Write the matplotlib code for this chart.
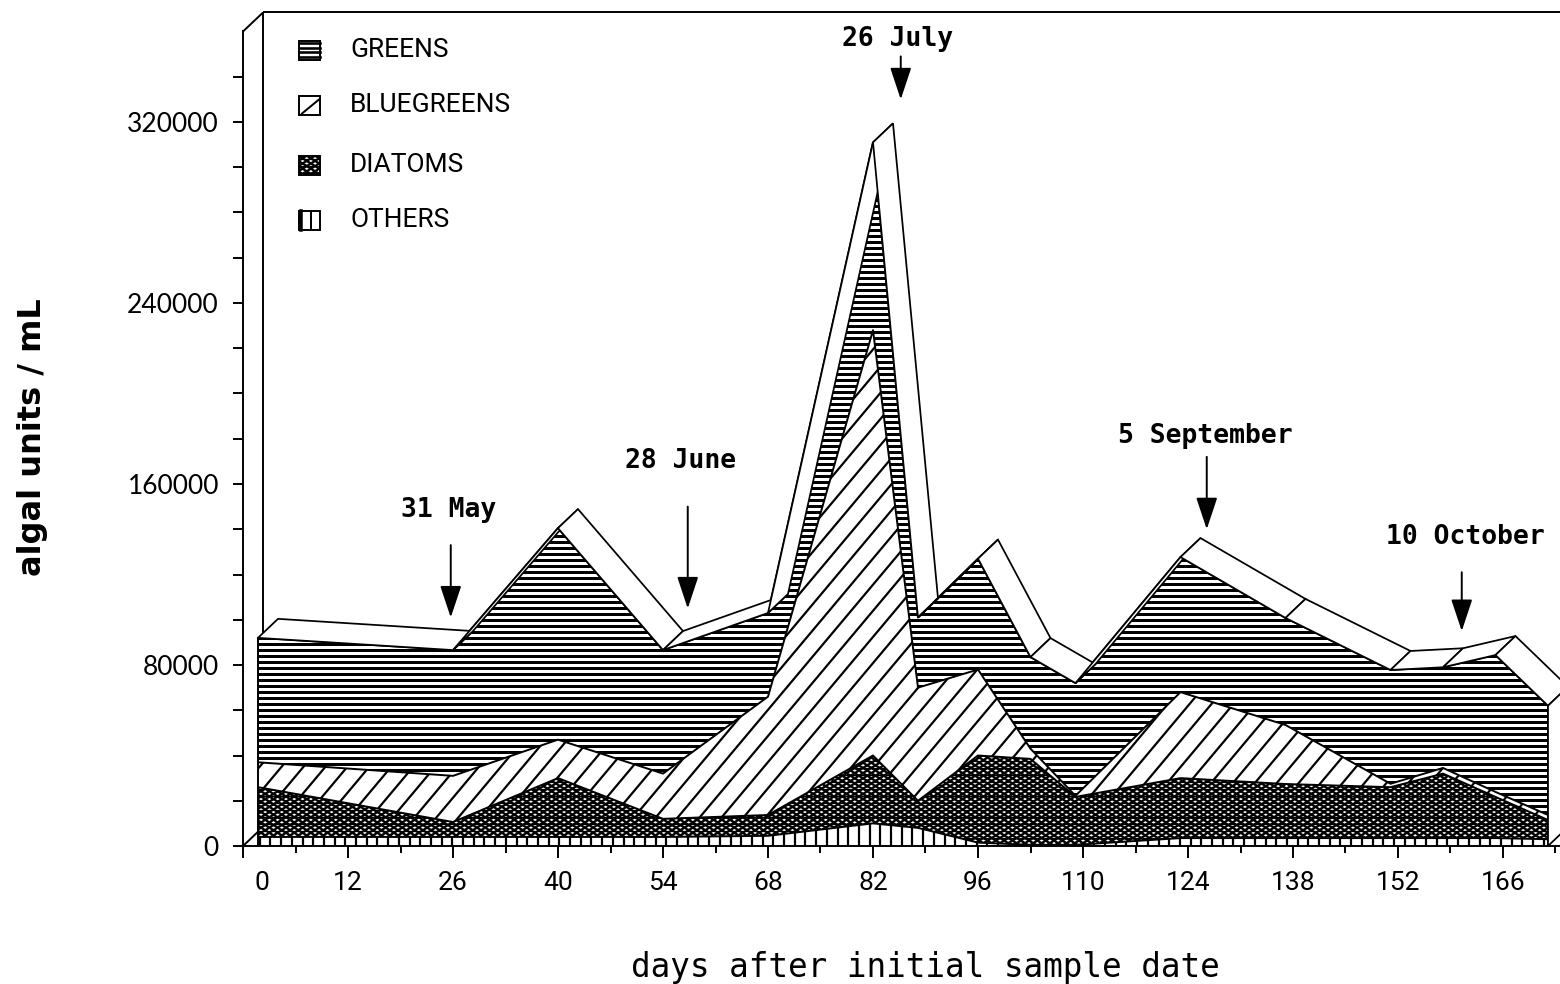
import numpy as np
import matplotlib
matplotlib.use("Agg")
import matplotlib.pyplot as plt
from matplotlib.collections import LineCollection
from matplotlib.patches import Polygon, Rectangle
from matplotlib.transforms import IdentityTransform

# ---- data: algal units / mL by sampling day -------------------------------
days = [0, 26, 40, 54, 68, 82, 88, 96, 103, 109, 123, 137, 151, 158, 165, 172]
others = [4000, 4000, 4000, 4000, 4500, 10000, 8000, 1500, 500, 500,
          3500, 3500, 3500, 3500, 3500, 3000]
diatoms = [22000, 6600, 26000, 8000, 9200, 30000, 12000, 38500, 38000, 21200,
           26500, 23900, 22500, 28500, 18200, 8500]
bluegreens = [11000, 20400, 17000, 20000, 52300, 188000, 50000, 38000, 4500, 500,
              38000, 26100, 1500, 2500, 2200, 2200]
greens = [55000, 55600, 93500, 54600, 37000, 83000, 31000, 49000, 40500, 49800,
          59700, 47300, 50300, 44500, 60500, 48300]

legend_labels = ["GREENS", "BLUEGREENS", "DIATOMS", "OTHERS"]

x_tick_days = [12, 26, 40, 54, 68, 82, 96, 110, 124, 138, 152, 166]
y_tick_values = [0, 80000, 160000, 240000, 320000]

event_labels = ["31 May", "28 June", "26 July", "5 September", "10 October"]
event_x = [25.7, 57.3, 85.7, 126.5, 160.5]
event_tip = [101000, 105000, 330000, 140000, 95000]
event_tail = [133000, 150000, 349000, 172000, 121000]
event_text_x = [25.4, 56.3, 85.3, 126.3, 161.0]
event_text_y = [148500, 170000, 356500, 181000, 136500]

# ---- figure geometry (pixels) ----------------------------------------------
W, H, DPI = 1560, 984, 100
fig = plt.figure(figsize=(W / DPI, H / DPI), dpi=DPI, facecolor="white")

XMIN, XMAX = -2, 180
YMIN, YMAX = 0, 360000
ax_left_px, ax_bottom_px = 243, H - 846
px_per_day = 7.5
px_per_unit = 181 / 80000
ax_w_px = (XMAX - XMIN) * px_per_day
ax_h_px = (YMAX - YMIN) * px_per_unit
ax = fig.add_axes([ax_left_px / W, ax_bottom_px / H, ax_w_px / W, ax_h_px / H])
ax.set_xlim(XMIN, XMAX)
ax.set_ylim(YMIN, YMAX)
ax.patch.set_visible(False)

# depth of the pseudo-3D slab, in pixels and in data units
DEPTH_X_PX, DEPTH_Y_PX = 20, 19
ddx = DEPTH_X_PX / px_per_day
ddy = DEPTH_Y_PX / px_per_unit

LW = 1.4  # outline width in points


def pt(px):
    return px * 72.0 / DPI


def hatch(clip_path, clip_trans, angle, spacing, lw_px, z, target=None):
    """Black parallel lines in pixel space, clipped to a path."""
    L = np.hypot(W, H)
    th = np.radians(angle)
    d = np.array([np.cos(th), np.sin(th)])
    n = np.array([-np.sin(th), np.cos(th)])
    c = np.array([W / 2.0, H / 2.0])
    segs = []
    for s in np.arange(-L, L, spacing):
        p = c + s * n
        segs.append([p - L * d, p + L * d])
    lc = LineCollection(segs, colors="black", linewidths=pt(lw_px),
                        transform=IdentityTransform(), zorder=z,
                        antialiased=True)
    if target is None:
        ax.add_collection(lc, autolim=False)
    else:
        fig.add_artist(lc)
    lc.set_clip_path(clip_path, clip_trans)
    return lc


# pattern for each layer: list of (angle, spacing px, line width px)
patterns = {
    "others": [(90, 10.7, 2.2)],
    "diatoms": [(32, 4.4, 2.3), (-32, 4.4, 2.3), (0, 7.0, 1.2)],
    "bluegreens": [(50, 16.8, 2.2)],
    "greens": [(0, 6.0, 3.0)],
}

# ---- back wall / floor edges ------------------------------------------------
wall_kw = dict(color="black", lw=LW, zorder=0.5, clip_on=False, solid_capstyle="butt")
ax.plot([XMIN + ddx, XMAX + ddx], [YMAX + ddy, YMAX + ddy], **wall_kw)
ax.plot([XMIN + ddx, XMIN + ddx], [YMIN + ddy, YMAX + ddy], **wall_kw)
ax.plot([XMIN, XMIN + ddx], [YMAX, YMAX + ddy], **wall_kw)
ax.plot([XMIN, XMIN + ddx], [YMIN, YMIN + ddy], **wall_kw)

# ---- stacked front faces ----------------------------------------------------
layers = [("others", others), ("diatoms", diatoms),
          ("bluegreens", bluegreens), ("greens", greens)]
polys = ax.stackplot(days, *[v for _, v in layers],
                     colors=["white"] * 4, edgecolor="none", zorder=1)
for (name, _), poly in zip(layers, polys):
    path = poly.get_paths()[0]
    for ang, sp, lw in patterns[name]:
        hatch(path, poly.get_transform(), ang, sp, lw, 2)

cum = np.cumsum(np.array([v for _, v in layers], dtype=float), axis=0)
for row in cum:
    ax.plot(days, row, color="black", lw=LW, zorder=3)
total = cum[-1]

# front-face end edges
ax.plot([days[0], days[0]], [0, total[0]], color="black", lw=LW, zorder=3)
ax.plot([days[-1], days[-1]], [0, total[-1]], color="black", lw=LW, zorder=3)

# ---- top surface of the slab ------------------------------------------------
for i in range(len(days) - 1):
    x0, x1 = days[i], days[i + 1]
    y0, y1 = total[i], total[i + 1]
    quad = Polygon([(x0, y0), (x1, y1), (x1 + ddx, y1 + ddy), (x0 + ddx, y0 + ddy)],
                   closed=True, facecolor="white", edgecolor="black",
                   lw=LW * 0.9, zorder=4, joinstyle="miter")
    ax.add_patch(quad)

# right end face
xe, ye = days[-1], total[-1]
ax.add_patch(Polygon([(xe, 0), (xe, ye), (xe + ddx, ye + ddy), (xe + ddx, ddy)],
                     closed=True, facecolor="white", edgecolor="black",
                     lw=LW * 0.9, zorder=4))

# ---- axes styling ------------------------------------------------------------
for side in ("top", "right"):
    ax.spines[side].set_visible(False)
for side in ("left", "bottom"):
    ax.spines[side].set_linewidth(LW)
    ax.spines[side].set_zorder(5)

major_x = [XMIN] + x_tick_days
minor_x = list(range(XMIN + 7, 176, 14))
ax.set_xticks(major_x, labels=[""] + [str(d) for d in x_tick_days])
ax.set_xticks(minor_x, minor=True)
ax.tick_params(axis="x", which="major", length=pt(12), width=LW, pad=pt(13),
               labelsize=19, direction="out", labelcolor="black")
ax.tick_params(axis="x", which="minor", length=pt(7), width=LW, direction="out")

y_all = list(range(0, 340001, 20000))
ax.set_yticks(y_all, labels=[str(v) if v in y_tick_values else "" for v in y_all])
ax.tick_params(axis="y", which="major", length=pt(10), width=LW, pad=pt(14),
               labelsize=19, direction="out", labelcolor="black")

narrow = ["Liberation Sans Narrow", "Roboto", "DejaVu Sans"]
for lab in ax.get_xticklabels():
    lab.set_family(narrow)
    lab.set_fontweight("normal")
for lab in ax.get_yticklabels():
    lab.set_family(["Lato", "DejaVu Sans"])
    lab.set_fontweight("normal")

# the "0" day label sits just right of the first tick
ax.text(0.5, -(12 + 13) / ax_h_px, "0", transform=ax.get_xaxis_transform(),
        ha="center", va="top", fontsize=19, family=narrow, fontweight="normal")

ax.set_xlabel("days after initial sample date", family="DejaVu Sans Mono",
              fontsize=23.5, labelpad=pt(56))
fig.text(33 / W, 1 - 437 / H, "algal units / mL", rotation=90, ha="center",
         va="center", fontsize=23, fontweight="bold", family="DejaVu Sans")

# ---- date markers ------------------------------------------------------------
for lab, x, tip, tail, tx, ty in zip(event_labels, event_x, event_tip, event_tail,
                                     event_text_x, event_text_y):
    ax.annotate("", xy=(x, tip), xytext=(x, tail),
                arrowprops=dict(arrowstyle="-|>,head_length=0.9,head_width=0.3",
                                color="black", lw=1.4, mutation_scale=22,
                                shrinkA=0, shrinkB=0),
                zorder=6, annotation_clip=False)
    ax.text(tx, ty, lab, ha="center", va="center", fontsize=19,
            fontweight="bold", family="DejaVu Sans Mono", zorder=6, clip_on=False)

# ---- legend ------------------------------------------------------------------
icon_x, icon_w, icon_h = 299, 21, 19
icon_y = [50, 105, 165, 220]
label_x = 350
for name, label, yc in zip(["greens", "bluegreens", "diatoms", "others"],
                           legend_labels, icon_y):
    x0 = icon_x
    y0 = H - yc - icon_h / 2
    rect = Rectangle((x0, y0), icon_w, icon_h, transform=IdentityTransform(),
                     facecolor="white", edgecolor="black", lw=LW, zorder=7)
    fig.add_artist(rect)
    if name == "greens":
        for k in range(4):
            yy = y0 + 2.5 + k * 4.7
            fig.add_artist(plt.Line2D([x0, x0 + icon_w], [yy, yy], color="black",
                                      lw=pt(2.6), transform=IdentityTransform(),
                                      zorder=8))
    elif name == "bluegreens":
        fig.add_artist(plt.Line2D([x0 + 3, x0 + icon_w - 1], [y0 + 1, y0 + icon_h - 4],
                                  color="black", lw=pt(2.0),
                                  transform=IdentityTransform(), zorder=8))
    elif name == "diatoms":
        for ang, sp, lw in patterns["diatoms"]:
            hatch(rect.get_path(), rect.get_transform(), ang, sp, lw, 8, target=fig)
    else:
        for xx, w in [(x0 + 2, 3.5), (x0 + icon_w / 2 + 1, 2.0)]:
            fig.add_artist(plt.Line2D([xx, xx], [y0, y0 + icon_h], color="black",
                                      lw=pt(w), transform=IdentityTransform(),
                                      zorder=8))
    fig.text(label_x / W, 1 - yc / H, label, ha="left", va="center", fontsize=19,
             family=narrow, fontweight="normal", color="black")

fig.savefig("out.png", dpi=DPI, facecolor="white")
